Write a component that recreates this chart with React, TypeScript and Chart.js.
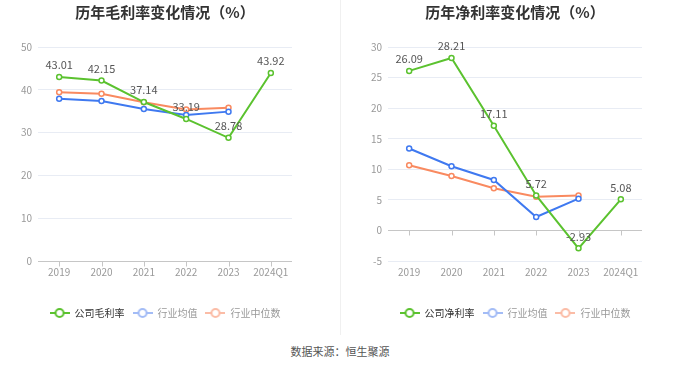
import React, { useEffect, useRef } from "react";
import { Chart, registerables } from "chart.js";

Chart.register(...registerables);

const FONT = '"Noto Sans CJK SC", "Noto Sans", sans-serif';

const categories = ["2019", "2020", "2021", "2022", "2023", "2024Q1"];

const grossTitle = "历年毛利率变化情况（%）";
const grossCompany = [43.01, 42.15, 37.14, 33.19, 28.78, 43.92];
const grossIndustryAvg = [37.9, 37.4, 35.5, 34.1, 34.9, null];
const grossIndustryMedian = [39.4, 39.1, 37.1, 35.4, 35.8, null];
const grossAxis = [0, 50, 10];

const netTitle = "历年净利率变化情况（%）";
const netCompany = [26.09, 28.21, 17.11, 5.72, -2.93, 5.08];
const netIndustryAvg = [13.4, 10.5, 8.25, 2.2, 5.2, null];
const netIndustryMedian = [10.65, 8.9, 6.9, 5.5, 5.7, null];
const netAxis = [-5, 30, 5];

const grossNames = ["公司毛利率", "行业均值", "行业中位数"];
const netNames = ["公司净利率", "行业均值", "行业中位数"];
const sourceText = "数据来源：恒生聚源";

const GREEN = "#5bc22f";
const BLUE = "#3f79f0";
const ORANGE = "#f98a60";
const LEGEND_MARK = [GREEN, "#a3bcf6", "#fbbca6"];
const LEGEND_TEXT = ["#333333", "#999999", "#999999"];

function makeMarker(color: string) {
  const c = document.createElement("canvas");
  c.width = 20;
  c.height = 12;
  const g = c.getContext("2d")!;
  g.strokeStyle = color;
  g.lineWidth = 2;
  g.beginPath();
  g.moveTo(0, 6);
  g.lineTo(20, 6);
  g.stroke();
  g.beginPath();
  g.arc(10, 6, 4, 0, Math.PI * 2);
  g.fillStyle = "#fff";
  g.fill();
  g.stroke();
  return c;
}

const valueLabelPlugin = {
  id: "valueLabels",
  afterDatasetsDraw(chart: any) {
    const meta = chart.getDatasetMeta(0);
    const data = chart.data.datasets[0].data;
    const ctx = chart.ctx;
    ctx.save();
    ctx.font = "11px " + FONT;
    ctx.fillStyle = "#555";
    ctx.textAlign = "center";
    ctx.textBaseline = "middle";
    meta.data.forEach((pt: any, i: number) => {
      const v = data[i];
      if (v == null) return;
      ctx.fillText(Number(v).toFixed(2), pt.x, pt.y - 12);
    });
    ctx.restore();
  },
};

const zeroTickPlugin = {
  id: "zeroTicks",
  beforeDatasetsDraw(chart: any) {
    const xs = chart.scales.x;
    const ys = chart.scales.y;
    const py = Math.round(ys.getPixelForValue(0)) + 0.5;
    const ctx = chart.ctx;
    ctx.save();
    ctx.strokeStyle = "#c6c6c6";
    ctx.lineWidth = 1;
    for (let i = 0; i < categories.length; i++) {
      const px = Math.round(xs.getPixelForTick(i)) + 0.5;
      ctx.beginPath();
      ctx.moveTo(px, py);
      ctx.lineTo(px, py + 5);
      ctx.stroke();
    }
    ctx.restore();
  },
};

function LineChart(props: {
  title: string;
  names: string[];
  company: (number | null)[];
  avg: (number | null)[];
  median: (number | null)[];
  axis: number[];
}) {
  const ref = useRef<HTMLCanvasElement>(null);
  useEffect(() => {
    const markers = LEGEND_MARK.map((c) => makeMarker(c));
    const mk = (label: string, data: any[], color: string) => ({
      label,
      data,
      borderColor: color,
      backgroundColor: "#fff",
      borderWidth: 2,
      pointRadius: 2.5,
      pointBorderWidth: 1.5,
      pointBackgroundColor: "#fff",
      pointBorderColor: color,
      tension: 0,
      spanGaps: false,
      yAxisID: "y",
    });
    const chart = new Chart(ref.current!, {
      type: "line",
      data: {
        labels: categories,
        datasets: [
          mk(props.names[0], props.company, GREEN),
          mk(props.names[1], props.avg, BLUE),
          mk(props.names[2], props.median, ORANGE),
        ],
      },
      options: {
        responsive: false,
        animation: false,
        layout: { padding: 0 },
        plugins: {
          tooltip: { enabled: false },
          title: {
            display: true,
            text: props.title,
            color: "#333",
            font: { family: FONT, size: 15, weight: "bold" },
            padding: { top: 3, bottom: 26 },
          },
          legend: {
            display: true,
            position: "bottom",
            labels: {
              usePointStyle: true,
              pointStyleWidth: 20,
              boxHeight: 10,
              padding: 8,
              font: { family: FONT, size: 10 },
              generateLabels: () =>
                props.names.map((n, i) => ({
                  text: n,
                  fillStyle: LEGEND_MARK[i],
                  strokeStyle: LEGEND_MARK[i],
                  lineWidth: 0,
                  pointStyle: markers[i] as any,
                  fontColor: LEGEND_TEXT[i],
                  hidden: false,
                  datasetIndex: i,
                })),
            },
          },
        },
        scales: {
          x: {
            type: "category",
            offset: true,
            border: { display: false },
            grid: { display: false, drawTicks: false },
            ticks: {
              color: "#999",
              padding: 5,
              font: { family: FONT, size: 10 },
              maxRotation: 0,
              autoSkip: false,
            },
            afterFit: (s: any) => {
              s.height = 39;
            },
          },
          y: {
            position: "left",
            min: props.axis[0],
            max: props.axis[1],
            border: { display: false },
            grid: {
              drawTicks: false,
              color: (c: any) => (c.tick && c.tick.value === 0 ? "#c6c6c6" : "#e8ecf4"),
              lineWidth: 1,
            },
            ticks: {
              stepSize: props.axis[2],
              color: "#999",
              padding: 6,
              font: { family: FONT, size: 10 },
            },
            afterFit: (s: any) => {
              s.width = 38;
            },
          },
          yr: {
            position: "right",
            display: true,
            border: { display: false },
            grid: { display: false, drawTicks: false },
            ticks: { display: false },
            afterFit: (s: any) => {
              s.width = 38;
            },
          },
        },
      },
      plugins: [zeroTickPlugin, valueLabelPlugin],
    });
    return () => chart.destroy();
  }, []);
  return <canvas ref={ref} width={330} height={328} style={{ width: 330, height: 328, display: "block" }} />;
}

export default function App() {
  return (
    <div
      style={{
        position: "absolute",
        left: 0,
        top: 0,
        width: 680,
        height: 367,
        background: "#fff",
        overflow: "hidden",
      }}
    >
      <div style={{ position: "absolute", left: 0, top: 0 }}>
        <LineChart
          title={grossTitle}
          names={grossNames}
          company={grossCompany}
          avg={grossIndustryAvg}
          median={grossIndustryMedian}
          axis={grossAxis}
        />
      </div>
      <div style={{ position: "absolute", left: 340, top: 0, width: 1, height: 335, background: "#f0f0f0" }} />
      <div style={{ position: "absolute", left: 350, top: 0 }}>
        <LineChart
          title={netTitle}
          names={netNames}
          company={netCompany}
          avg={netIndustryAvg}
          median={netIndustryMedian}
          axis={netAxis}
        />
      </div>
      <div
        style={{
          position: "absolute",
          left: 0,
          top: 343,
          width: 680,
          height: 16,
          lineHeight: "16px",
          textAlign: "center",
          fontFamily: FONT,
          fontSize: 11,
          color: "#555",
        }}
      >
        {sourceText}
      </div>
    </div>
  );
}
